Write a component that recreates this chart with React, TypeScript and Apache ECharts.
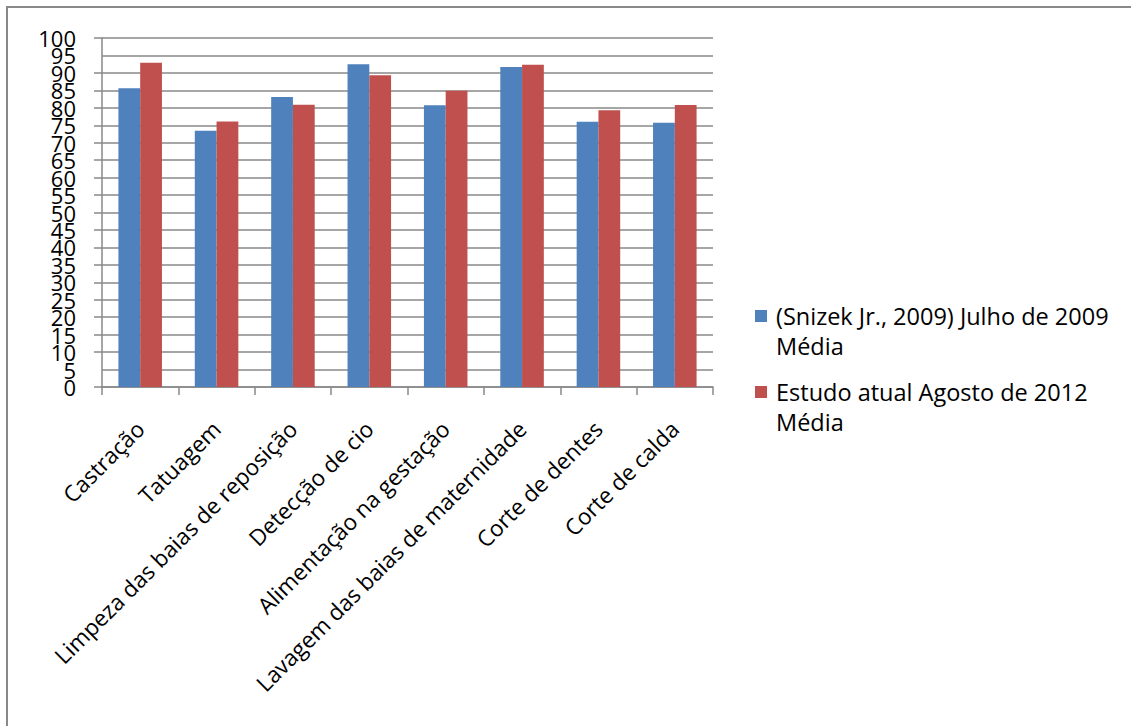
import React, { useEffect, useRef } from "react";
import * as echarts from "echarts";

const categories = [
  "Castração",
  "Tatuagem",
  "Limpeza das baias de reposição",
  "Detecção de cio",
  "Alimentação na gestação",
  "Lavagem das baias de maternidade",
  "Corte de dentes",
  "Corte de calda",
];
const seriesNames = [
  "(Snizek Jr., 2009) Julho de 2009 Média",
  "Estudo atual Agosto de 2012 Média",
];
const values2009 = [85.6, 73.4, 83.1, 92.5, 80.7, 91.7, 76.0, 75.7];
const values2012 = [92.9, 76.1, 80.9, 89.3, 84.9, 92.3, 79.3, 80.8];
const colors = ["#4F81BD", "#C0504D"];
const yMin = 0;
const yMax = 100;
const yStep = 5;

const FONT = "'Open Sans', sans-serif";
const GRID_COLOR = "#898989";
const legendIcon =
  "path://M0,0h0.01v0.01h-0.01z M0,9h12v12h-12z M0,59.99h0.01v0.01h-0.01z";

const yLabelStyle = {
  margin: 26,
  fontFamily: FONT,
  fontSize: 22,
  color: "#000",
};

export default function App() {
  const ref = useRef<HTMLDivElement>(null);
  useEffect(() => {
    if (!ref.current) return;
    const chart = echarts.init(ref.current, null, { renderer: "svg" });
    chart.setOption({
      animation: false,
      backgroundColor: "#ffffff",
      graphic: [
        {
          type: "rect",
          shape: { x: 7, y: 7, width: 1160, height: 760 },
          style: { fill: "none", stroke: GRID_COLOR, lineWidth: 2 },
          silent: true,
        },
      ],
      grid: { left: 102, right: 418, top: 38, bottom: 339, containLabel: false },
      legend: {
        orient: "vertical",
        left: 755,
        top: 301,
        padding: 0,
        itemWidth: 12,
        itemHeight: 60,
        itemGap: 16,
        icon: legendIcon,
        formatter: (name: string) => name.replace(" Média", "\nMédia"),
        textStyle: {
          fontFamily: FONT,
          fontSize: 23.5,
          color: "#000",
          lineHeight: 30,
          padding: [0, 0, 0, 4],
        },
        data: seriesNames,
      },
      xAxis: {
        type: "category",
        data: categories,
        boundaryGap: true,
        axisLine: { show: true, lineStyle: { color: GRID_COLOR, width: 1.5 } },
        axisTick: {
          show: true,
          alignWithLabel: false,
          length: 8,
          lineStyle: { color: GRID_COLOR, width: 1.5 },
        },
        axisLabel: {
          rotate: 45,
          interval: 0,
          margin: 38,
          fontFamily: FONT,
          fontSize: 22.5,
          color: "#000",
        },
        splitLine: { show: false },
      },
      yAxis: [
        {
          type: "value",
          position: "left",
          min: yMin,
          max: yMax,
          interval: yStep,
          axisLine: { show: true, lineStyle: { color: GRID_COLOR, width: 1.5 } },
          axisTick: { show: true, length: 8, lineStyle: { color: GRID_COLOR, width: 1.5 } },
          axisLabel: { ...yLabelStyle, showMinLabel: true, showMaxLabel: true },
          splitLine: { show: true, lineStyle: { color: GRID_COLOR, width: 1.5 } },
        },
        {
          type: "value",
          position: "left",
          offset: 0,
          min: yMin,
          max: yMax,
          interval: yStep,
          axisLine: { show: false },
          axisTick: { show: false },
          splitLine: { show: false },
          axisLabel: {
            ...yLabelStyle,
            showMinLabel: false,
            showMaxLabel: false,
            formatter: (v: number) => (v === yMin + yStep || v === yMax - yStep ? String(v) : ""),
          },
        },
      ],
      series: [
        {
          name: seriesNames[0],
          type: "bar",
          yAxisIndex: 0,
          data: values2009,
          itemStyle: { color: colors[0] },
          barGap: "0%",
          barCategoryGap: "43%",
        },
        {
          name: seriesNames[1],
          type: "bar",
          yAxisIndex: 0,
          data: values2012,
          itemStyle: { color: colors[1] },
          barGap: "0%",
          barCategoryGap: "43%",
        },
      ],
    });
    return () => chart.dispose();
  }, []);
  return (
    <div
      ref={ref}
      style={{ position: "fixed", left: 0, top: 0, width: 1131, height: 726, background: "#fff" }}
    />
  );
}
